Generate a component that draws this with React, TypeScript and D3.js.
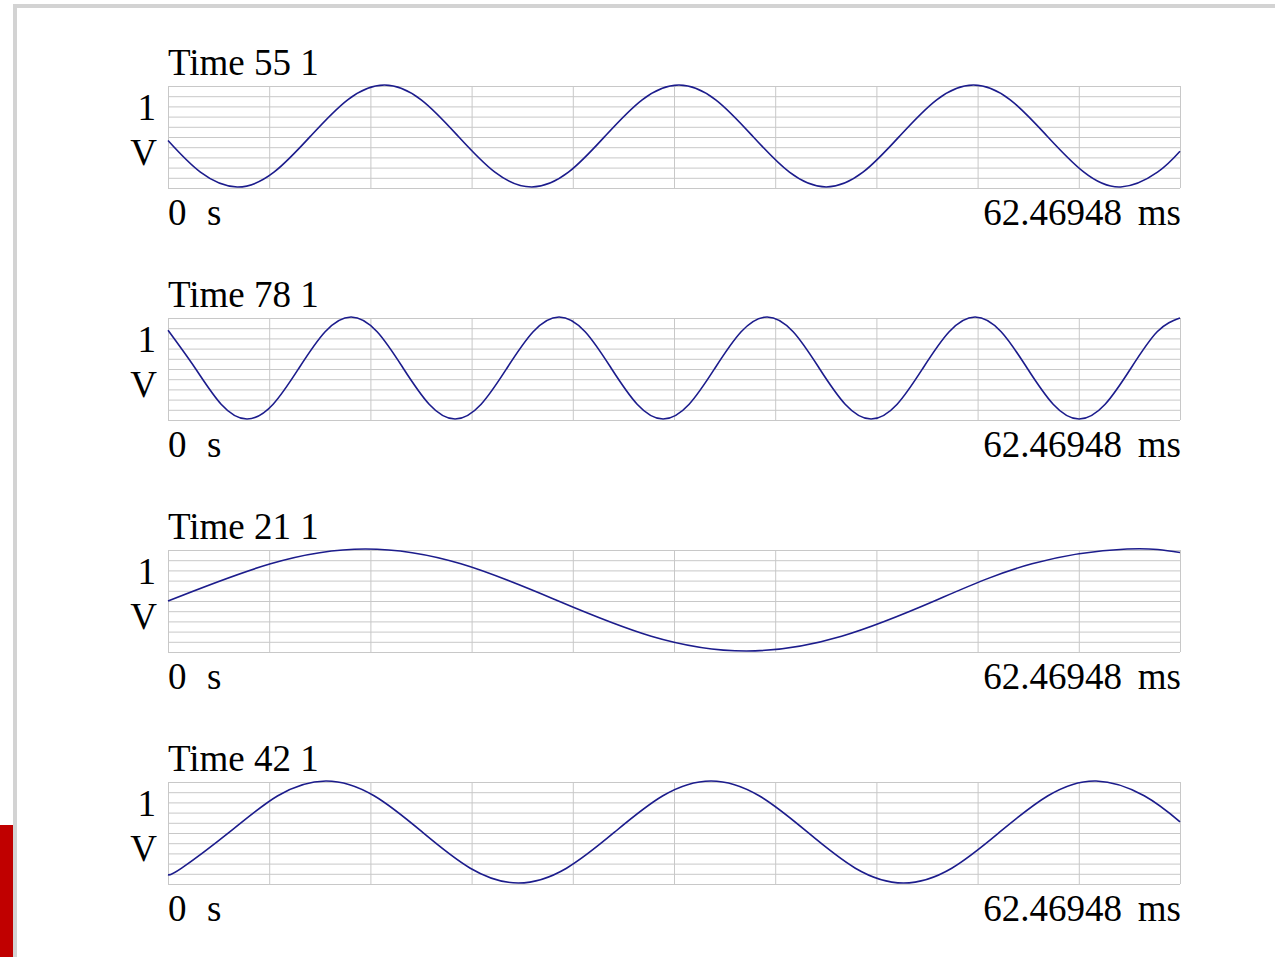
import { useEffect, useRef } from "react";
import * as d3 from "d3";

// panel titles and value sets
const titles = ["Time 55 1", "Time 78 1", "Time 21 1", "Time 42 1"];
const yUnitLabels = ["1", "V"];
const xStartLabel = ["0", "s"];
const xEndLabel = ["62.46948", "ms"];
const xDomain = [0, 62.46948];
const yDomain = [-1, 1];

// [ms, volts] samples
const trace55: [number, number][] = [
  [0, -0.07], [2.0, -0.69], [4.27, -0.98], [6.54, -0.69], [8.81, 0.02], [11.09, 0.73], [13.36, 1.02],
  [15.63, 0.73], [17.9, 0.02], [20.18, -0.69], [22.45, -0.98], [24.72, -0.69], [26.99, 0.02],
  [29.27, 0.73], [31.54, 1.02], [33.81, 0.73], [36.08, 0.02], [38.36, -0.69], [40.63, -0.98],
  [42.9, -0.69], [45.17, 0.02], [47.45, 0.73], [49.72, 1.02], [51.99, 0.73], [54.26, 0.02],
  [56.54, -0.69], [58.81, -0.98], [61.08, -0.69], [62.47, -0.28],
];
const trace78: [number, number][] = [
  [0, 0.76], [1.67, 0.02], [3.28, -0.69], [4.88, -0.98], [6.49, -0.69], [8.09, 0.02],
  [9.7, 0.73], [11.3, 1.02], [12.91, 0.73], [14.51, 0.02], [16.12, -0.69], [17.72, -0.98],
  [19.33, -0.69], [20.93, 0.02], [22.54, 0.73], [24.14, 1.02], [25.75, 0.73], [27.35, 0.02],
  [28.96, -0.69], [30.56, -0.98], [32.17, -0.69], [33.77, 0.02], [35.38, 0.73], [36.98, 1.02],
  [38.59, 0.73], [40.19, 0.02], [41.8, -0.69], [43.4, -0.98], [45.01, -0.69], [46.61, 0.02],
  [48.22, 0.73], [49.82, 1.02], [51.43, 0.73], [53.03, 0.02], [54.64, -0.69], [56.24, -0.98],
  [57.85, -0.69], [59.45, 0.02], [61.06, 0.73], [62.47, 1.0],
];
const trace21: [number, number][] = [
  [0, 0.0], [6.33, 0.73], [12.2, 1.02], [18.08, 0.73], [23.95, 0.02], [29.83, -0.69],
  [35.7, -0.98], [41.58, -0.69], [47.45, 0.02], [53.33, 0.73], [59.2, 1.02], [62.47, 0.95],
];
const trace42: [number, number][] = [
  [0, -0.82], [0.84, -0.69], [3.81, 0.02], [6.78, 0.73], [9.75, 1.02], [12.72, 0.73],
  [15.69, 0.02], [18.66, -0.69], [21.63, -0.98], [24.6, -0.69], [27.58, 0.02], [30.55, 0.73],
  [33.52, 1.02], [36.49, 0.73], [39.46, 0.02], [42.43, -0.69], [45.4, -0.98], [48.38, -0.69],
  [51.35, 0.02], [54.32, 0.73], [57.29, 1.02], [60.26, 0.73], [62.47, 0.22],
];
const traces = [trace55, trace78, trace21, trace42];

export default function App() {
  const svgRef = useRef<SVGSVGElement>(null);

  useEffect(() => {
    if (!svgRef.current) return;
    const svg = d3.select(svgRef.current);
    svg.selectAll("*").remove();

    const width = 1275;
    const height = 957;
    const plotLeft = 168;
    const plotWidth = 1012;
    const plotHeight = 102;
    const firstTop = 86;
    const step = 232;
    const font = "'Liberation Serif', 'Times New Roman', serif";
    const fontSize = 37;
    const gridColor = "#c8c8c8";

    svg.attr("width", width).attr("height", height);
    svg.append("rect").attr("width", width).attr("height", height).attr("fill", "#ffffff");

    // page frame
    svg.append("rect").attr("x", 13).attr("y", 4).attr("width", width - 13).attr("height", 4).attr("fill", "#d3d3d3");
    svg.append("rect").attr("x", 13).attr("y", 4).attr("width", 4).attr("height", height - 4).attr("fill", "#d3d3d3");
    svg.append("rect").attr("x", 0).attr("y", 825).attr("width", 13).attr("height", height - 825).attr("fill", "#c00000");

    const xScale = d3.scaleLinear().domain(xDomain).range([0, plotWidth]);
    const yScale = d3.scaleLinear().domain(yDomain).range([plotHeight, 0]);

    traces.forEach((data, i) => {
      const top = firstTop + i * step;
      const g = svg.append("g").attr("transform", `translate(${plotLeft},${top})`);

      g.append("g")
        .attr("class", "x-grid")
        .attr("transform", `translate(0,${plotHeight})`)
        .call(
          d3
            .axisBottom(xScale)
            .tickValues(d3.range(11).map(k => xDomain[0] + (k * (xDomain[1] - xDomain[0])) / 10))
            .tickSize(-plotHeight)
            .tickSizeOuter(0)
            .tickFormat(() => "")
        )
        .call(a => a.select(".domain").remove())
        .selectAll("line")
        .attr("stroke", gridColor);

      g.append("g")
        .attr("class", "y-grid")
        .call(
          d3
            .axisLeft(yScale)
            .tickValues(d3.range(11).map(k => yDomain[0] + (k * (yDomain[1] - yDomain[0])) / 10))
            .tickSize(-plotWidth)
            .tickSizeOuter(0)
            .tickFormat(() => "")
        )
        .call(a => a.select(".domain").remove())
        .selectAll("line")
        .attr("stroke", gridColor);

      const line = d3
        .line<[number, number]>()
        .x(d => xScale(d[0]))
        .y(d => yScale(d[1]))
        .curve(d3.curveNatural);
      g.append("path")
        .datum(data)
        .attr("fill", "none")
        .attr("stroke", "#1c1c8c")
        .attr("stroke-width", 1.6)
        .attr("d", line);

      const text = (x: number, y: number, s: string, anchor = "start") =>
        g.append("text")
          .attr("x", x)
          .attr("y", y)
          .attr("text-anchor", anchor)
          .attr("font-family", font)
          .attr("font-size", fontSize)
          .attr("fill", "#000")
          .text(s);

      text(0, -11, titles[i]);
      text(-12, 34, yUnitLabels[0], "end");
      text(-11, 79, yUnitLabels[1], "end");
      text(0, 139, xStartLabel[0]);
      text(39, 139, xStartLabel[1]);
      text(xScale(xDomain[1]) - 58, 139, xEndLabel[0], "end");
      text(xScale(xDomain[1]) + 1, 139, xEndLabel[1], "end");
    });
  }, []);

  return (
    <svg
      ref={svgRef}
      style={{ position: "absolute", left: 0, top: 0, display: "block" }}
    />
  );
}
